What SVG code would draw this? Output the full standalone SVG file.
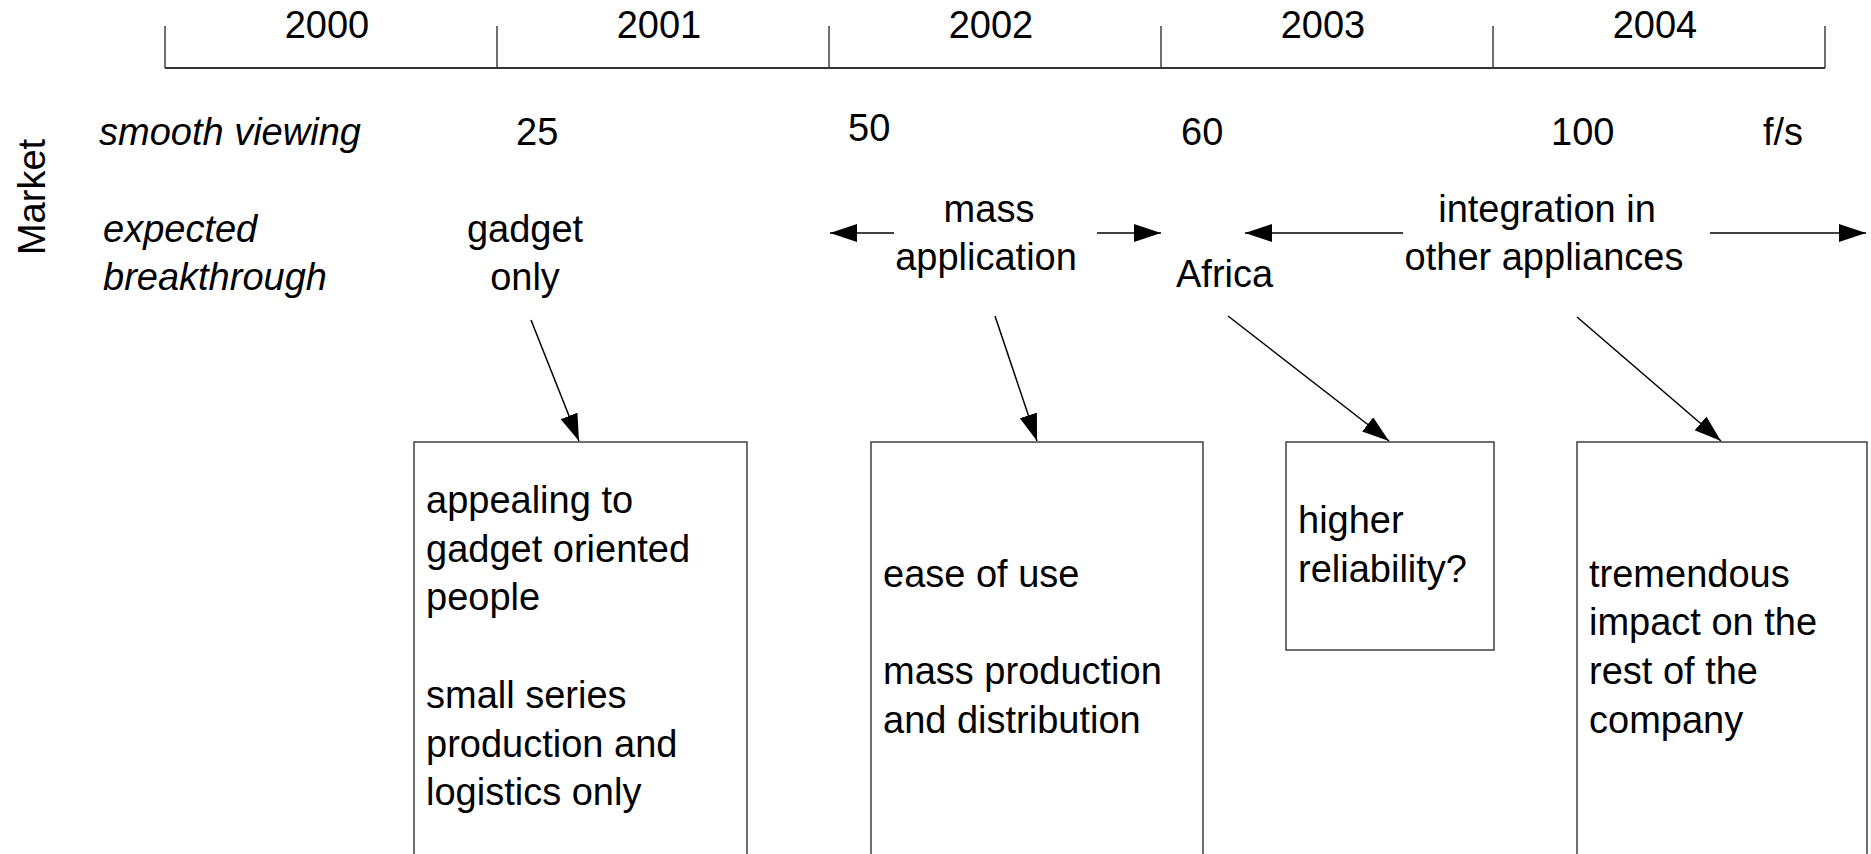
<svg xmlns="http://www.w3.org/2000/svg" width="1871" height="854" viewBox="0 0 1871 854">
<style>
text{font-family:"Liberation Sans",Arial,sans-serif;font-size:38px;fill:#000}
.it{font-style:italic}
.mid{text-anchor:middle}
.axis{stroke:#333;stroke-width:2;fill:none}
.tick{stroke:#333;stroke-width:1.4;fill:none}
.box{fill:#fff;stroke:#333;stroke-width:1.4}
.arr{stroke:#000;stroke-width:1.5;fill:none;marker-end:url(#ah)}
</style>
<defs>
<marker id="ah" markerUnits="userSpaceOnUse" markerWidth="28" markerHeight="20" refX="27" refY="9" orient="auto">
<path d="M0,0 L27,9 L0,18 Z" fill="#000"/>
</marker>
</defs>
<rect width="1871" height="854" fill="#fff"/>
<g id="timeline">
<line class="axis" x1="165" y1="68" x2="1825" y2="68"/>
<line class="tick" x1="165" y1="26" x2="165" y2="68"/>
<line class="tick" x1="497" y1="26" x2="497" y2="68"/>
<line class="tick" x1="829" y1="26" x2="829" y2="68"/>
<line class="tick" x1="1161" y1="26" x2="1161" y2="68"/>
<line class="tick" x1="1493" y1="26" x2="1493" y2="68"/>
<line class="tick" x1="1825" y1="26" x2="1825" y2="68"/>
<text class="mid" x="327" y="38">2000</text>
<text class="mid" x="659" y="38">2001</text>
<text class="mid" x="991" y="38">2002</text>
<text class="mid" x="1323" y="38">2003</text>
<text class="mid" x="1655" y="38">2004</text>
</g>
<g id="labels">
<text class="mid" transform="translate(45,197) rotate(-90)">Market</text>
<text class="it" x="99" y="145">smooth viewing</text>
<text class="it" x="103" y="242">expected</text>
<text class="it" x="103" y="290">breakthrough</text>
</g>
<g id="fps">
<text x="516" y="145">25</text>
<text x="848" y="141">50</text>
<text x="1181" y="145">60</text>
<text x="1551" y="145">100</text>
<text x="1763" y="145">f/s</text>
</g>
<g id="gadget">
<text class="mid" x="525" y="242">gadget</text>
<text class="mid" x="525" y="290">only</text>
</g>
<g id="mass">
<text class="mid" x="989" y="222">mass</text>
<text class="mid" x="986" y="270">application</text>
</g>
<g id="africa">
<text x="1176" y="287">Africa</text>
</g>
<g id="integration">
<text class="mid" x="1547" y="222">integration in</text>
<text class="mid" x="1544" y="270">other appliances</text>
</g>
<g id="box-gadget">
<rect class="box" x="414" y="442" width="333" height="440"/>
<text x="426" y="513">appealing to</text>
<text x="426" y="561.7">gadget oriented</text>
<text x="426" y="610.4">people</text>
<text x="426" y="707.8">small series</text>
<text x="426" y="756.5">production and</text>
<text x="426" y="805.2">logistics only</text>
</g>
<g id="box-mass">
<rect class="box" x="871" y="442" width="332" height="440"/>
<text x="883" y="586.7">ease of use</text>
<text x="883" y="684.1">mass production</text>
<text x="883" y="732.8">and distribution</text>
</g>
<g id="box-africa">
<rect class="box" x="1286" y="442" width="208" height="208"/>
<text x="1298" y="533">higher</text>
<text x="1298" y="582">reliability?</text>
</g>
<g id="box-integration">
<rect class="box" x="1577" y="442" width="290" height="440"/>
<text x="1589" y="586.7">tremendous</text>
<text x="1589" y="635.4">impact on the</text>
<text x="1589" y="684.1">rest of the</text>
<text x="1589" y="732.8">company</text>
</g>
<g id="connectors">
<line class="arr" x1="894" y1="233" x2="830" y2="233"/>
<line class="arr" x1="1097" y1="233" x2="1161" y2="233"/>
<line class="arr" x1="1403" y1="233" x2="1245" y2="233"/>
<line class="arr" x1="1710" y1="233" x2="1866" y2="233"/>
<line class="arr" x1="531" y1="320" x2="579" y2="441"/>
<line class="arr" x1="995" y1="316" x2="1037" y2="441"/>
<line class="arr" x1="1228" y1="316" x2="1389" y2="441"/>
<line class="arr" x1="1577" y1="317" x2="1721" y2="441"/>
</g>
</svg>
